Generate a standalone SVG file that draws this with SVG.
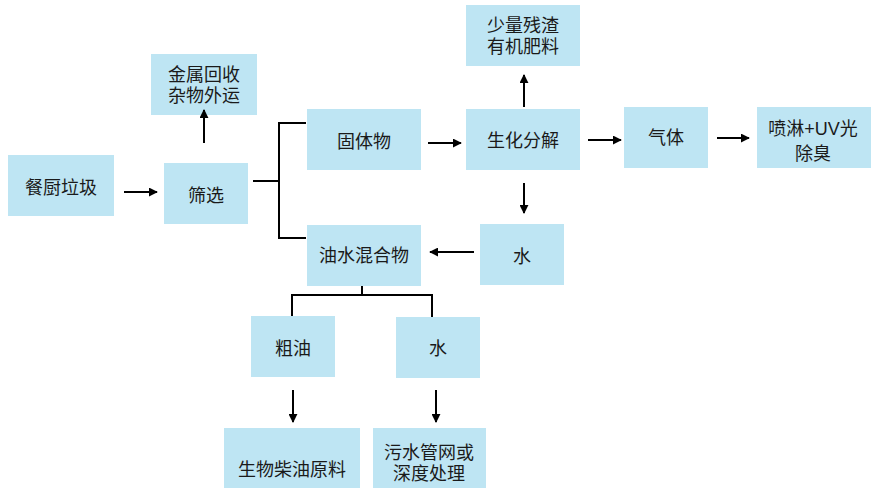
<svg xmlns="http://www.w3.org/2000/svg" width="876" height="492" viewBox="0 0 876 492">
<style>
.box{fill:#bee5f3;}
.t{font-family:"Liberation Sans","Noto Sans CJK SC",sans-serif;font-size:18px;fill:#1a1a1a;text-anchor:middle;}
.ln{stroke:#000;stroke-width:2;fill:none;}
.ar{stroke:#000;stroke-width:2;fill:none;marker-end:url(#ah);}
</style>
<defs>
<marker id="ah" viewBox="0 0 10 10" refX="9" refY="5" markerWidth="4.5" markerHeight="4.5" orient="auto" markerUnits="strokeWidth">
<path d="M0,0 L10,5 L0,10 Z" fill="#000"/>
</marker>
</defs>
<rect width="876" height="492" fill="#fff"/>
<g id="n1"><rect class="box" x="8" y="155" width="106" height="61"/><text class="t" x="61" y="193.5">餐厨垃圾</text></g>
<g id="n2"><rect class="box" x="164" y="163" width="84" height="61"/><text class="t" x="206" y="201.5">筛选</text></g>
<g id="n3"><rect class="box" x="151" y="54" width="106" height="61"/><text class="t" x="204" y="80.5">金属回收<tspan x="204" dy="21">杂物外运</tspan></text></g>
<g id="n4"><rect class="box" x="307" y="109" width="114" height="61"/><text class="t" x="364" y="147.5">固体物</text></g>
<g id="n5"><rect class="box" x="307" y="225" width="114" height="61"/><text class="t" x="364" y="261.5">油水混合物</text></g>
<g id="n6"><rect class="box" x="466" y="5" width="114" height="61"/><text class="t" x="523" y="31.5">少量残渣<tspan x="523" dy="21">有机肥料</tspan></text></g>
<g id="n7"><rect class="box" x="466" y="109" width="114" height="61"/><text class="t" x="523" y="146.5">生化分解</text></g>
<g id="n8"><rect class="box" x="624" y="107" width="84" height="61"/><text class="t" x="666" y="143.5">气体</text></g>
<g id="n9"><rect class="box" x="757" y="107" width="114" height="61"/><text class="t" x="813" y="134.5">喷淋+UV光<tspan x="813" dy="25">除臭</tspan></text></g>
<g id="n10"><rect class="box" x="480" y="224" width="84" height="61"/><text class="t" x="522" y="262.5">水</text></g>
<g id="n11"><rect class="box" x="251" y="316" width="84" height="61"/><text class="t" x="293" y="354.5">粗油</text></g>
<g id="n12"><rect class="box" x="396" y="317" width="84" height="61"/><text class="t" x="438" y="354.5">水</text></g>
<g id="n13"><rect class="box" x="224" y="428" width="136" height="60"/><text class="t" x="292" y="475.5">生物柴油原料</text></g>
<g id="n14"><rect class="box" x="373" y="428" width="113" height="60"/><text class="t" x="429" y="458.5">污水管网或<tspan x="429" dy="21">深度处理</tspan></text></g>
<g id="connectors">
<line class="ar" x1="124" y1="192" x2="157" y2="192"/>
<line class="ar" x1="204" y1="143" x2="204" y2="110"/>
<polyline class="ln" points="253,181 279,181"/>
<polyline class="ln" points="306,123 279,123 279,238 306,238"/>
<line class="ar" x1="428" y1="143" x2="461" y2="143"/>
<line class="ar" x1="524" y1="107" x2="524" y2="75"/>
<line class="ar" x1="588" y1="140" x2="621" y2="140"/>
<line class="ar" x1="717" y1="138" x2="749" y2="138"/>
<line class="ar" x1="524" y1="183" x2="524" y2="213"/>
<line class="ar" x1="474" y1="252" x2="430" y2="252"/>
<line class="ln" x1="362" y1="286" x2="362" y2="295"/>
<polyline class="ln" points="292,316 292,295 432,295 432,317"/>
<line class="ar" x1="293" y1="390" x2="293" y2="422"/>
<line class="ar" x1="436" y1="390" x2="436" y2="422"/>
</g>
</svg>
